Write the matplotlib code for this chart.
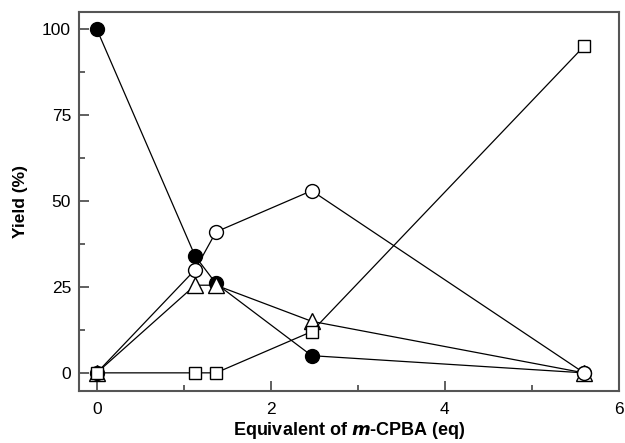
import matplotlib.pyplot as plt
from matplotlib.ticker import MultipleLocator

plt.rcParams["font.family"] = ["Liberation Sans", "DejaVu Sans"]

equiv = [0.0, 1.13, 1.37, 2.47, 5.6]
filled_circle = [100, 34, 26, 5, 0]
open_circle = [0, 30, 41, 53, 0]
triangle = [0, 25.5, 25.5, 15, 0]
square = [0, 0, 0, 12, 95]

fig, ax = plt.subplots(figsize=(6.25, 4.43), dpi=100)
fig.subplots_adjust(left=0.127, right=0.99, top=0.973, bottom=0.118)

line_kw = dict(color="black", linewidth=0.9, markeredgecolor="black",
               markeredgewidth=1.0)
ax.plot(equiv, filled_circle, marker="o", markersize=10,
        markerfacecolor="black", zorder=2, **line_kw)
ax.plot(equiv, triangle, marker="^", markersize=11,
        markerfacecolor="white", zorder=3, **line_kw)
ax.plot(equiv, open_circle, marker="o", markersize=10,
        markerfacecolor="white", zorder=4, **line_kw)
ax.plot(equiv, square, marker="s", markersize=9,
        markerfacecolor="white", zorder=5, **line_kw)

ax.set_xlim(-0.2, 6)
ax.set_ylim(-5.2, 105)
ax.xaxis.set_major_locator(MultipleLocator(2))
ax.xaxis.set_minor_locator(MultipleLocator(1))
ax.yaxis.set_major_locator(MultipleLocator(25))
ax.yaxis.set_minor_locator(MultipleLocator(12.5))
ax.tick_params(which="both", direction="in", colors="#444444",
               labelcolor="black", labelsize=12.5, width=1.2)
ax.tick_params(which="major", length=7)
ax.tick_params(axis="x", which="major", pad=8)
ax.tick_params(axis="y", which="major", pad=6)
ax.tick_params(which="minor", length=4)

for sp in ax.spines.values():
    sp.set_color("#555555")
    sp.set_linewidth(1.5)

ax.set_xlabel("Equivalent of $\\bfit{m}$-CPBA (eq)", fontsize=13,
              fontweight="bold", labelpad=2)
ax.set_ylabel("Yield (%)", fontsize=12.5, fontweight="bold", labelpad=10)

fig.savefig("out.png", dpi=100)
